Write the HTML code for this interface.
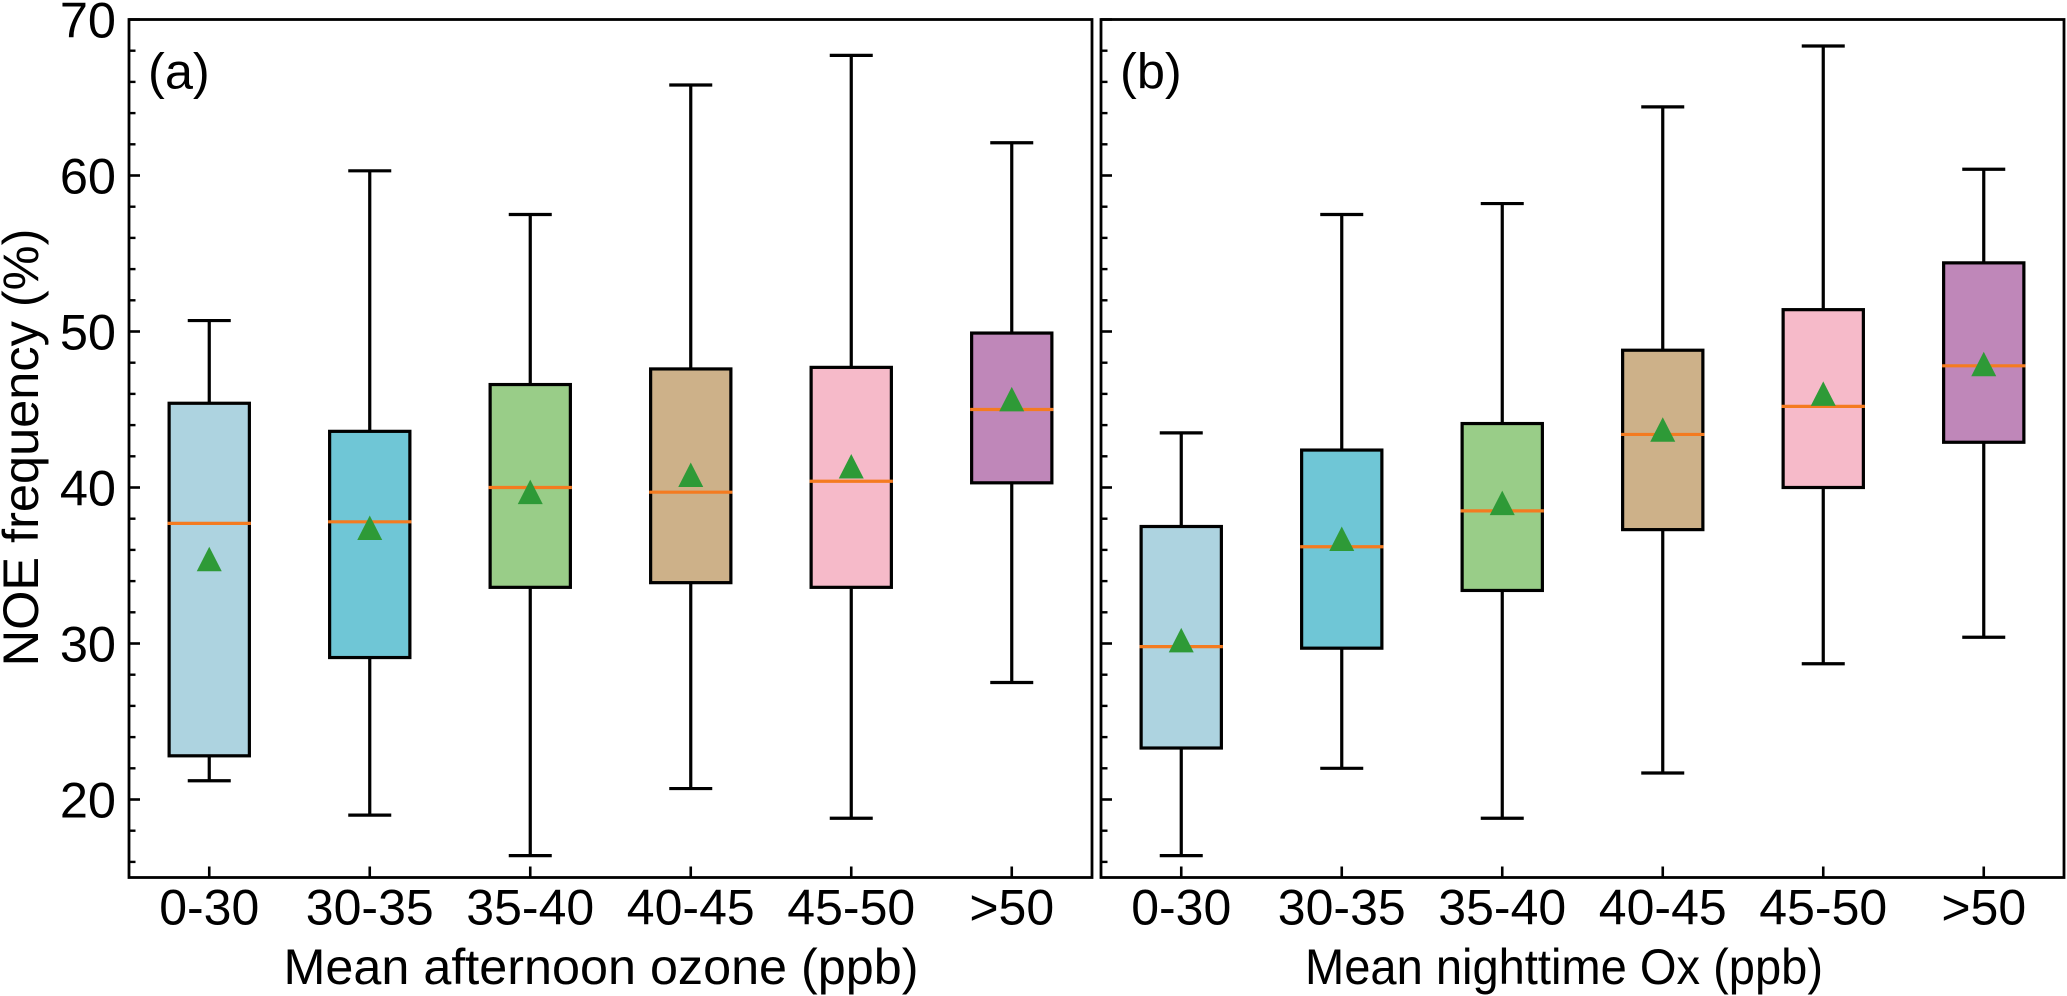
<!DOCTYPE html>
<html lang="en">
<head>
<meta charset="utf-8">
<title>NOE frequency box plots</title>
<style>
html,body{margin:0;padding:0;background:#fff;width:2067px;height:996px;overflow:hidden}
svg{display:block}
text{font-family:"Liberation Sans",Arial,sans-serif;fill:#000}
</style>
</head>
<body>
<svg id="chart" xmlns="http://www.w3.org/2000/svg" width="2067" height="996" viewBox="0 0 2067 996">
<rect width="2067" height="996" fill="#fff"/>
</svg>
<script>
const categories = ['0-30','30-35','35-40','40-45','45-50','>50'];
const yTickLabels = [20,30,40,50,60,70];
const yMinorTicks = [16,18,22,24,26,28,32,34,36,38,42,44,46,48,52,54,56,58,62,64,66,68];
const boxColors = ['#add3e0','#6fc6d6','#99cd88','#cdb189','#f6bac9','#bf87b9'];

const aLow  = [21.2,19.0,16.4,20.7,18.8,27.5];
const aQ1   = [22.8,29.1,33.6,33.9,33.6,40.3];
const aMed  = [37.7,37.8,40.0,39.7,40.4,45.0];
const aQ3   = [45.4,43.6,46.6,47.6,47.7,49.9];
const aHigh = [50.7,60.3,57.5,65.8,67.7,62.1];
const aMean = [35.4,37.4,39.7,40.8,41.35,45.65];

const bLow  = [16.4,22.0,18.8,21.7,28.7,30.4];
const bQ1   = [23.3,29.7,33.4,37.3,40.0,42.9];
const bMed  = [29.8,36.2,38.5,43.4,45.2,47.8];
const bQ3   = [37.5,42.4,44.1,48.8,51.4,54.4];
const bHigh = [43.5,57.5,58.2,64.4,68.3,60.4];
const bMean = [30.2,36.7,39.0,43.7,46.0,47.9];

const svg = document.getElementById('chart');
const NS = 'http://www.w3.org/2000/svg';
const Y_TOP = 19.5, Y_BOTTOM = 877.5, Y_MIN = 15, Y_MAX = 70;
function yScale(v){ return Y_BOTTOM - (v - Y_MIN) / (Y_MAX - Y_MIN) * (Y_BOTTOM - Y_TOP); }
function make(tag, attrs, parent){
  const el = document.createElementNS(NS, tag);
  for (const k in attrs) el.setAttribute(k, attrs[k]);
  (parent || svg).appendChild(el);
  return el;
}
function drawPanel(id, left, right, label, xTitle, titleX, titleLength, low, q1, med, q3, high, mean, showY){
  const g = make('g', {});
  
  
  const unit = (right - left) / 6;
  const xScale = function(i){ return left + unit * (i + 0.5); };

  categories.forEach(function(cat, i){
    const x = xScale(i);
    const box = make('g', {}, g);
    
    
    const capHalf = unit * 0.134;
    const boxHalf = unit * 0.25;
    const wStyle = {stroke:'#000','stroke-width':3.2};
    make('line', Object.assign({x1:x,x2:x,y1:yScale(high[i]),y2:yScale(q3[i])}, wStyle), box);
    make('line', Object.assign({x1:x,x2:x,y1:yScale(q1[i]),y2:yScale(low[i])}, wStyle), box);
    make('line', Object.assign({x1:x-capHalf,x2:x+capHalf,y1:yScale(high[i]),y2:yScale(high[i])}, wStyle), box);
    make('line', Object.assign({x1:x-capHalf,x2:x+capHalf,y1:yScale(low[i]),y2:yScale(low[i])}, wStyle), box);
    make('rect', {x:x-boxHalf,y:yScale(q3[i]),width:boxHalf*2,height:yScale(q1[i])-yScale(q3[i]),fill:boxColors[i],stroke:'#000','stroke-width':3.2}, box);
    make('line', {x1:x-boxHalf-1.5,x2:x+boxHalf+1.5,y1:yScale(med[i]),y2:yScale(med[i]),stroke:'#f47b20','stroke-width':3.2}, box);
    const my = yScale(mean[i]);
    make('polygon', {points:(x)+','+(my-12.5)+' '+(x+12.5)+','+(my+12)+' '+(x-12.5)+','+(my+12),fill:'#2e9a37'}, box);

    make('line', {x1:x,x2:x,y1:Y_BOTTOM,y2:Y_BOTTOM-11,stroke:'#000','stroke-width':2.6}, g);
    const t = make('text', {x:x,y:Y_BOTTOM+47,'text-anchor':'middle','font-size':50}, g);
    t.textContent = cat;
    
    
  });

  yTickLabels.forEach(function(v){
    const y = yScale(v);
    make('line', {x1:left,x2:left+11,y1:y,y2:y,stroke:'#000','stroke-width':2.6}, g);
    if (showY){
      const t = make('text', {x:left-13,y:y+18,'text-anchor':'end','font-size':50.5}, g);
      t.textContent = v;
      
      
    }
  });
  yMinorTicks.forEach(function(v){
    const y = yScale(v);
    make('line', {x1:left,x2:left+6.5,y1:y,y2:y,stroke:'#000','stroke-width':2.4}, g);
  });

  const frame = make('rect', {x:left,y:Y_TOP,width:right-left,height:Y_BOTTOM-Y_TOP,fill:'none',stroke:'#000','stroke-width':2.8}, g);
  
  

  const pl = make('text', {x:left+19,y:88.5,'font-size':50.5}, g);
  pl.textContent = label;
  
  

  const xt = make('text', {x:titleX,y:984,'text-anchor':'middle','font-size':50.2,textLength:titleLength,lengthAdjust:'spacingAndGlyphs'}, g);
  xt.textContent = xTitle;
  
  
}

drawPanel('a', 129, 1092, '(a)', 'Mean afternoon ozone (ppb)', 601, 635, aLow, aQ1, aMed, aQ3, aHigh, aMean, true);
drawPanel('b', 1101, 2064, '(b)', 'Mean nighttime Ox (ppb)', 1564, 518, bLow, bQ1, bMed, bQ3, bHigh, bMean, false);

const yTitle = make('text', {x:0,y:0,'text-anchor':'middle','font-size':50.5,transform:'translate(38 447.5) rotate(-90)'});
yTitle.textContent = 'NOE frequency (%)';


</script>
</body>
</html>
